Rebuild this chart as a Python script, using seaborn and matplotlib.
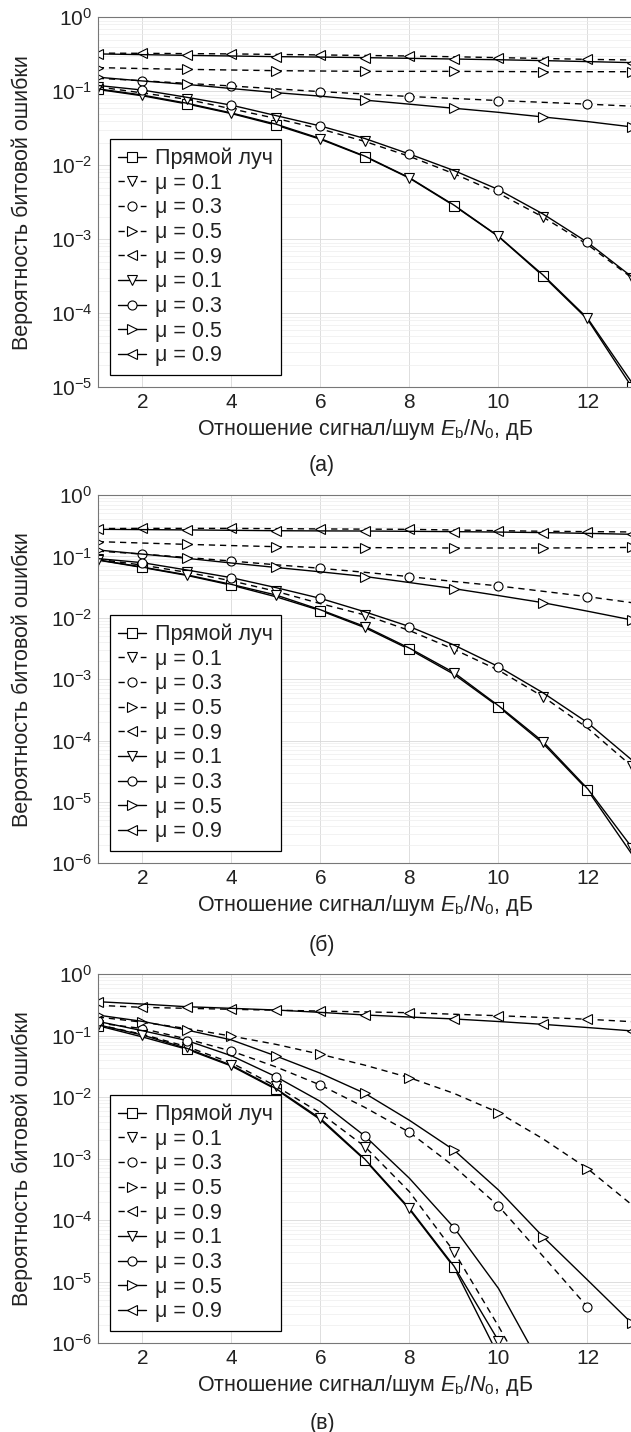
import numpy as np
import pandas as pd
import matplotlib
matplotlib.use("Agg")
import matplotlib.pyplot as plt
import seaborn as sns
from matplotlib.ticker import LogLocator, FixedLocator, NullFormatter, LogFormatterSciNotation

# ---------------- data ----------------
snr_db = list(range(1, 14))
x_ticks = [2, 4, 6, 8, 10, 12]
labels = ["Прямой луч", "μ = 0.1", "μ = 0.3", "μ = 0.5", "μ = 0.9",
          "μ = 0.1", "μ = 0.3", "μ = 0.5", "μ = 0.9"]
captions = ["(а)", "(б)", "(в)"]

# panel (а)
direct_a = [0.106, 0.087, 0.0675, 0.050, 0.035, 0.0225, 0.0131, 0.0067, 0.00285, 0.00109, 3.2e-4, 8.3e-5, 1.0e-5]
dash01_a = [0.115, 0.095, 0.078, 0.058, 0.043, 0.031, 0.021, 0.0132, 0.0077, 0.0042, 0.0020, 8.5e-4, 3.0e-4]
dash03_a = [0.150, 0.139, 0.128, 0.118, 0.108, 0.099, 0.092, 0.085, 0.080, 0.075, 0.071, 0.067, 0.063]
dash05_a = [0.209, 0.203, 0.198, 0.194, 0.190, 0.188, 0.186, 0.186, 0.186, 0.185, 0.184, 0.184, 0.184]
dash09_a = [0.328, 0.326, 0.323, 0.320, 0.315, 0.310, 0.305, 0.300, 0.293, 0.285, 0.278, 0.270, 0.265]
sol01_a = [0.108, 0.089, 0.069, 0.051, 0.036, 0.023, 0.0133, 0.0068, 0.0029, 0.0011, 3.3e-4, 8.6e-5, 1.15e-5]
sol03_a = [0.120, 0.104, 0.083, 0.065, 0.047, 0.034, 0.023, 0.0142, 0.0085, 0.0047, 0.0022, 9.1e-4, 3.1e-4]
sol05_a = [0.155, 0.138, 0.124, 0.109, 0.096, 0.086, 0.076, 0.067, 0.059, 0.052, 0.045, 0.039, 0.033]
sol09_a = [0.320, 0.313, 0.306, 0.300, 0.294, 0.290, 0.285, 0.279, 0.273, 0.267, 0.260, 0.252, 0.244]

# panel (б)
direct_b = [0.087, 0.066, 0.049, 0.034, 0.022, 0.0131, 0.0069, 0.00306, 0.0012, 3.57e-4, 9.0e-5, 1.57e-5, 1.4e-6]
dash01_b = [0.090, 0.072, 0.055, 0.040, 0.027, 0.017, 0.0111, 0.0062, 0.00306, 0.0014, 5.2e-4, 1.6e-4, 3.8e-5]
dash03_b = [0.122, 0.109, 0.096, 0.084, 0.073, 0.064, 0.055, 0.0468, 0.039, 0.033, 0.027, 0.0221, 0.0176]
dash05_b = [0.174, 0.165, 0.157, 0.150, 0.144, 0.141, 0.139, 0.138, 0.137, 0.137, 0.137, 0.138, 0.140]
dash09_b = [0.284, 0.286, 0.286, 0.286, 0.283, 0.280, 0.278, 0.276, 0.269, 0.262, 0.257, 0.253, 0.250]
sol01_b = [0.088, 0.067, 0.050, 0.035, 0.0235, 0.0135, 0.0072, 0.0032, 0.00128, 3.7e-4, 9.6e-5, 1.65e-5, 1.8e-6]
sol03_b = [0.092, 0.079, 0.060, 0.045, 0.031, 0.0207, 0.0125, 0.0072, 0.0036, 0.0016, 6.0e-4, 1.96e-4, 4.8e-5]
sol05_b = [0.127, 0.109, 0.093, 0.078, 0.066, 0.056, 0.047, 0.0375, 0.0298, 0.023, 0.0176, 0.0128, 0.0092]
sol09_b = [0.276, 0.273, 0.270, 0.266, 0.262, 0.260, 0.259, 0.256, 0.253, 0.249, 0.244, 0.237, 0.229]

# panel (в)
direct_c = [0.145, 0.095, 0.060, 0.032, 0.0134, 0.0043, 9.5e-4, 1.5e-4, 1.72e-5, 6.3e-7, None, None, None]
dash01_c = [0.150, 0.105, 0.066, 0.036, 0.0151, 0.0055, 1.57e-3, 2.9e-4, 3.1e-5, 1.9e-6, 1.0e-7, None, None]
dash03_c = [0.160, 0.130, 0.088, 0.056, 0.031, 0.0157, 0.0068, 0.00268, 7.5e-4, 1.7e-4, 2.6e-5, 3.9e-6, None]
dash05_c = [0.200, 0.165, 0.130, 0.098, 0.072, 0.0496, 0.033, 0.0207, 0.0115, 0.0056, 0.0021, 6.9e-4, 1.77e-4]
dash09_c = [0.310, 0.287, 0.277, 0.267, 0.258, 0.250, 0.242, 0.235, 0.222, 0.210, 0.197, 0.184, 0.168]
sol01_c = [0.150, 0.102, 0.062, 0.033, 0.0138, 0.0045, 9.8e-4, 1.56e-4, 1.8e-5, 1.1e-6, None, None, None]
sol03_c = [0.170, 0.120, 0.083, 0.047, 0.0215, 0.0085, 0.00233, 4.8e-4, 7.6e-5, 7.8e-6, 3.8e-7, None, None]
sol05_c = [0.215, 0.170, 0.123, 0.085, 0.0466, 0.0244, 0.0115, 0.0042, 0.00138, 3.1e-4, 5.4e-5, 1.07e-5, 2.1e-6]
sol09_c = [0.355, 0.325, 0.294, 0.277, 0.260, 0.238, 0.216, 0.200, 0.186, 0.169, 0.152, 0.135, 0.119]

markers = ["s", "v", "o", ">", "<", "v", "o", ">", "<"]
dashed = [False, True, True, True, True, False, False, False, False]

panels = [
    dict(series=[direct_a, dash01_a, dash03_a, dash05_a, dash09_a, sol01_a, sol03_a, sol05_a, sol09_a],
         starts=[0, 0, 1, 0, 1, 1, 1, 0, 0], ymin=1e-5),
    dict(series=[direct_b, dash01_b, dash03_b, dash05_b, dash09_b, sol01_b, sol03_b, sol05_b, sol09_b],
         starts=[1, 0, 1, 0, 1, 0, 1, 0, 0], ymin=1e-6),
    dict(series=[direct_c, dash01_c, dash03_c, dash05_c, dash09_c, sol01_c, sol03_c, sol05_c, sol09_c],
         starts=[0, 0, 1, 1, 1, 1, 0, 0, 0], ymin=1e-6),
]

# ---------------- style ----------------
sns.set_theme(style="white")
plt.rcParams["font.family"] = ["Liberation Sans", "DejaVu Sans"]
plt.rcParams["mathtext.fontset"] = "custom"
plt.rcParams["mathtext.rm"] = "Liberation Sans"
plt.rcParams["mathtext.it"] = "Liberation Sans:italic"
plt.rcParams["mathtext.bf"] = "Liberation Sans:bold"

W, H = 631, 1432
fig = plt.figure(figsize=(W / 100, H / 100), dpi=100)

# pixel geometry of each panel: (top, bottom) of axes, caption y
geom = [(17.3, 387.3, 465), (495.0, 863.3, 945), (974.0, 1343.3, 1423)]
left_px, right_px = 97.8, 632.0
FS = 15
LFS = 15.5

for i, (p, (top, bot, cap_y)) in enumerate(zip(panels, geom)):
    ax = fig.add_axes([left_px / W, 1 - bot / H, (right_px - left_px) / W, (bot - top) / H])
    ax.set_yscale("log")
    for lab, vals, dsh, mk, st in zip(labels, p["series"], dashed, markers, p["starts"]):
        df = pd.DataFrame({"snr": snr_db, "ber": vals}).dropna()
        sns.lineplot(data=df, x="snr", y="ber", ax=ax, color="black", lw=1.0,
                     linestyle=(0, (4.5, 3.5)) if dsh else "-",
                     marker=mk, markevery=(st, 2), markersize=6.5,
                     markerfacecolor="white", markeredgecolor="black",
                     markeredgewidth=0.8, label=lab, estimator=None,
                     errorbar=None, sort=False, legend=False)
    ax.set_xlim(1, 13)
    ax.set_ylim(p["ymin"], 1)
    ax.xaxis.set_major_locator(FixedLocator(x_ticks))
    ax.yaxis.set_major_locator(LogLocator(base=10, numticks=20))
    ax.yaxis.set_minor_locator(LogLocator(base=10, subs=np.arange(2, 10), numticks=20))
    ax.yaxis.set_major_formatter(LogFormatterSciNotation())
    ax.yaxis.set_minor_formatter(NullFormatter())
    ax.grid(True, which="major", color="#d8d8d8", lw=0.6)
    ax.grid(True, which="minor", axis="y", color="#ededed", lw=0.5)
    ax.set_axisbelow(True)
    ax.tick_params(axis="both", which="both", direction="in", colors="#555555",
                   labelcolor="#222222", labelsize=FS)
    ax.tick_params(axis="both", which="major", length=4, pad=4)
    ax.tick_params(axis="y", which="minor", length=2.5)
    for s in ["left", "bottom", "top"]:
        ax.spines[s].set_color("#777777")
        ax.spines[s].set_linewidth(0.8)
    ax.spines["right"].set_visible(False)

    ax.set_xlabel("Отношение сигнал/шум $E_{\\mathrm{b}}/N_{\\mathrm{0}}$, дБ", fontsize=LFS, color="#222222")
    ax.set_ylabel("Вероятность битовой ошибки", fontsize=LFS, color="#222222")
    hpx = bot - top
    ax.xaxis.set_label_coords(0.5, -(430 - 387.3) / hpx)
    ax.xaxis.label.set_va("center")
    ax.yaxis.set_label_coords((22 - left_px) / (right_px - left_px), 0.5)
    ax.yaxis.label.set_va("center")

    leg = ax.legend(loc="lower left", bbox_to_anchor=(0.022, 12.3 / hpx), borderaxespad=0,
                    frameon=True, fancybox=False, edgecolor="black", framealpha=1,
                    fontsize=15.5, handlelength=1.3, handletextpad=0.4,
                    labelspacing=0.17, borderpad=0.4)
    leg.get_frame().set_linewidth(0.9)
    for t in leg.get_texts():
        t.set_color("#222222")

    fig.text(322 / W, 1 - cap_y / H, captions[i],
             ha="center", va="center", fontsize=LFS, color="#222222")

fig.savefig("out.png", dpi=100)
